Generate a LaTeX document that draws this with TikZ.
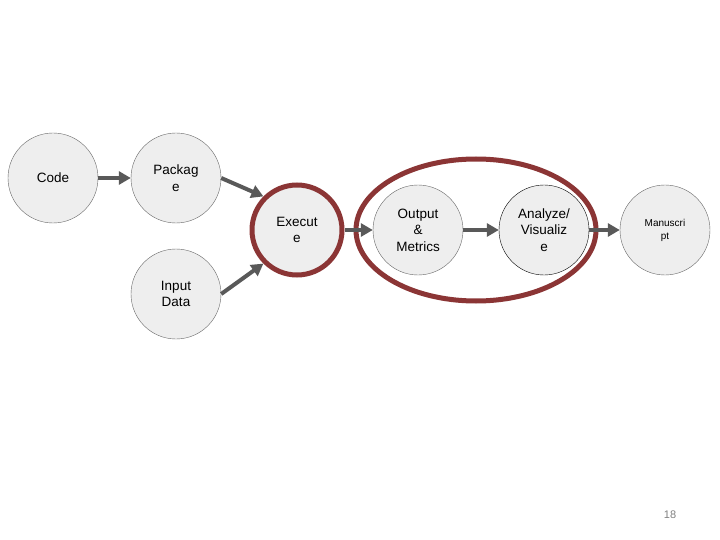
\documentclass[tikz,border=0pt]{standalone}
\usepackage{fontspec}
\setmainfont{Liberation Sans}
\usetikzlibrary{arrows.meta}
\definecolor{nodefill}{HTML}{EEEEEE}
\definecolor{nodeline}{HTML}{666666}
\definecolor{arrowgray}{HTML}{595959}
\definecolor{darkred}{HTML}{8B3535}

\begin{document}
\begin{tikzpicture}[x=1pt,y=-1pt,
    cnode/.style={draw=nodeline,fill=nodefill,circle,minimum size=90pt,inner sep=1pt,
        align=center,font=\fontsize{13.5}{16.5}\selectfont},
    flow/.style={draw=arrowgray,line width=4pt,-{Triangle[length=12pt,width=13pt]}}]
    \useasboundingbox (0,0) rectangle (720,540);

    \node[cnode] (code) at (53,178) {Code};
    \node[cnode] (pkg) at (176,178) {Packag\\e};
    \node[cnode] (data) at (176,294) {Input\\Data};
    \node[cnode,draw=darkred,line width=5pt] (exe) at (297,230) {Execut\\e};
    \node[cnode] (out) at (418,230) {Output\\\&\\Metrics};
    \node[cnode,draw=black] (viz) at (544,230) {Analyze/\\Visualiz\\e};
    \node[cnode,font=\fontsize{10}{13}\selectfont] (ms) at (665,230) {Manuscri\\pt};

    \draw[darkred,line width=5pt] (476,230) ellipse [x radius=120, y radius=71];

    \draw[flow] (code) -- (pkg) ;
    \draw[flow] (pkg.east) -- (exe.135) ;
    \draw[flow] (data.east) -- (exe.225) ;
    \draw[flow] (exe) -- (out) ;
    \draw[flow] (out) -- (viz) ;
    \draw[flow] (viz) -- (ms) ;

    \node[text=gray,font=\fontsize{11}{13}\selectfont] (page) at (670,515) {18};
\end{tikzpicture}
\end{document}
